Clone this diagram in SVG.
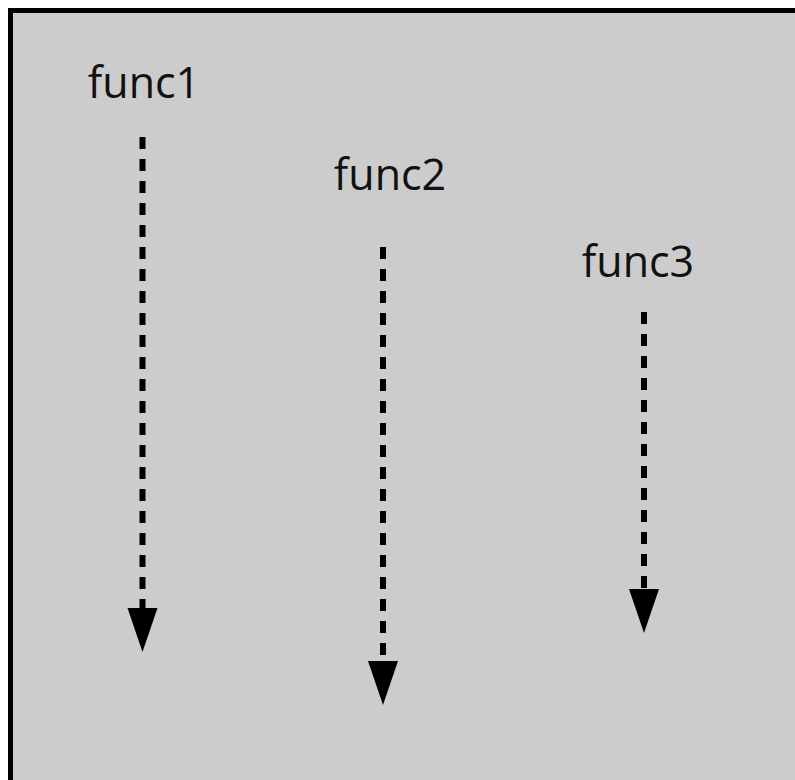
<svg xmlns="http://www.w3.org/2000/svg" width="795" height="780" viewBox="0 0 795 780">
<style>
.lbl{font-family:"Open Sans","Noto Sans","Liberation Sans",sans-serif;font-size:43px;fill:#111;text-anchor:middle}
.flow{fill:none;stroke:#000;stroke-width:6;stroke-dasharray:12 10}
</style>
<defs>
<marker id="ah" markerUnits="userSpaceOnUse" markerWidth="46" markerHeight="32" refX="0" refY="16" orient="auto" viewBox="0 0 46 32">
<path d="M0,1 L44,16 L0,31 z" fill="#000"/>
</marker>
</defs>
<rect x="0" y="0" width="795" height="780" fill="#fff"/>
<rect id="frame" x="10.5" y="10.5" width="800" height="800" fill="#cccccc" stroke="#000" stroke-width="5"/>
<g id="func1"><text class="lbl" x="144" y="98">func1</text></g>
<g id="func2"><text class="lbl" x="390" y="190">func2</text></g>
<g id="func3"><text class="lbl" x="638" y="277">func3</text></g>
<g id="connectors">
<path class="flow" d="M142.5,137 L142.5,608" marker-end="url(#ah)"/>
<path class="flow" d="M383,247 L383,661" marker-end="url(#ah)"/>
<path class="flow" d="M644,312 L644,589" marker-end="url(#ah)"/>
</g>
</svg>
